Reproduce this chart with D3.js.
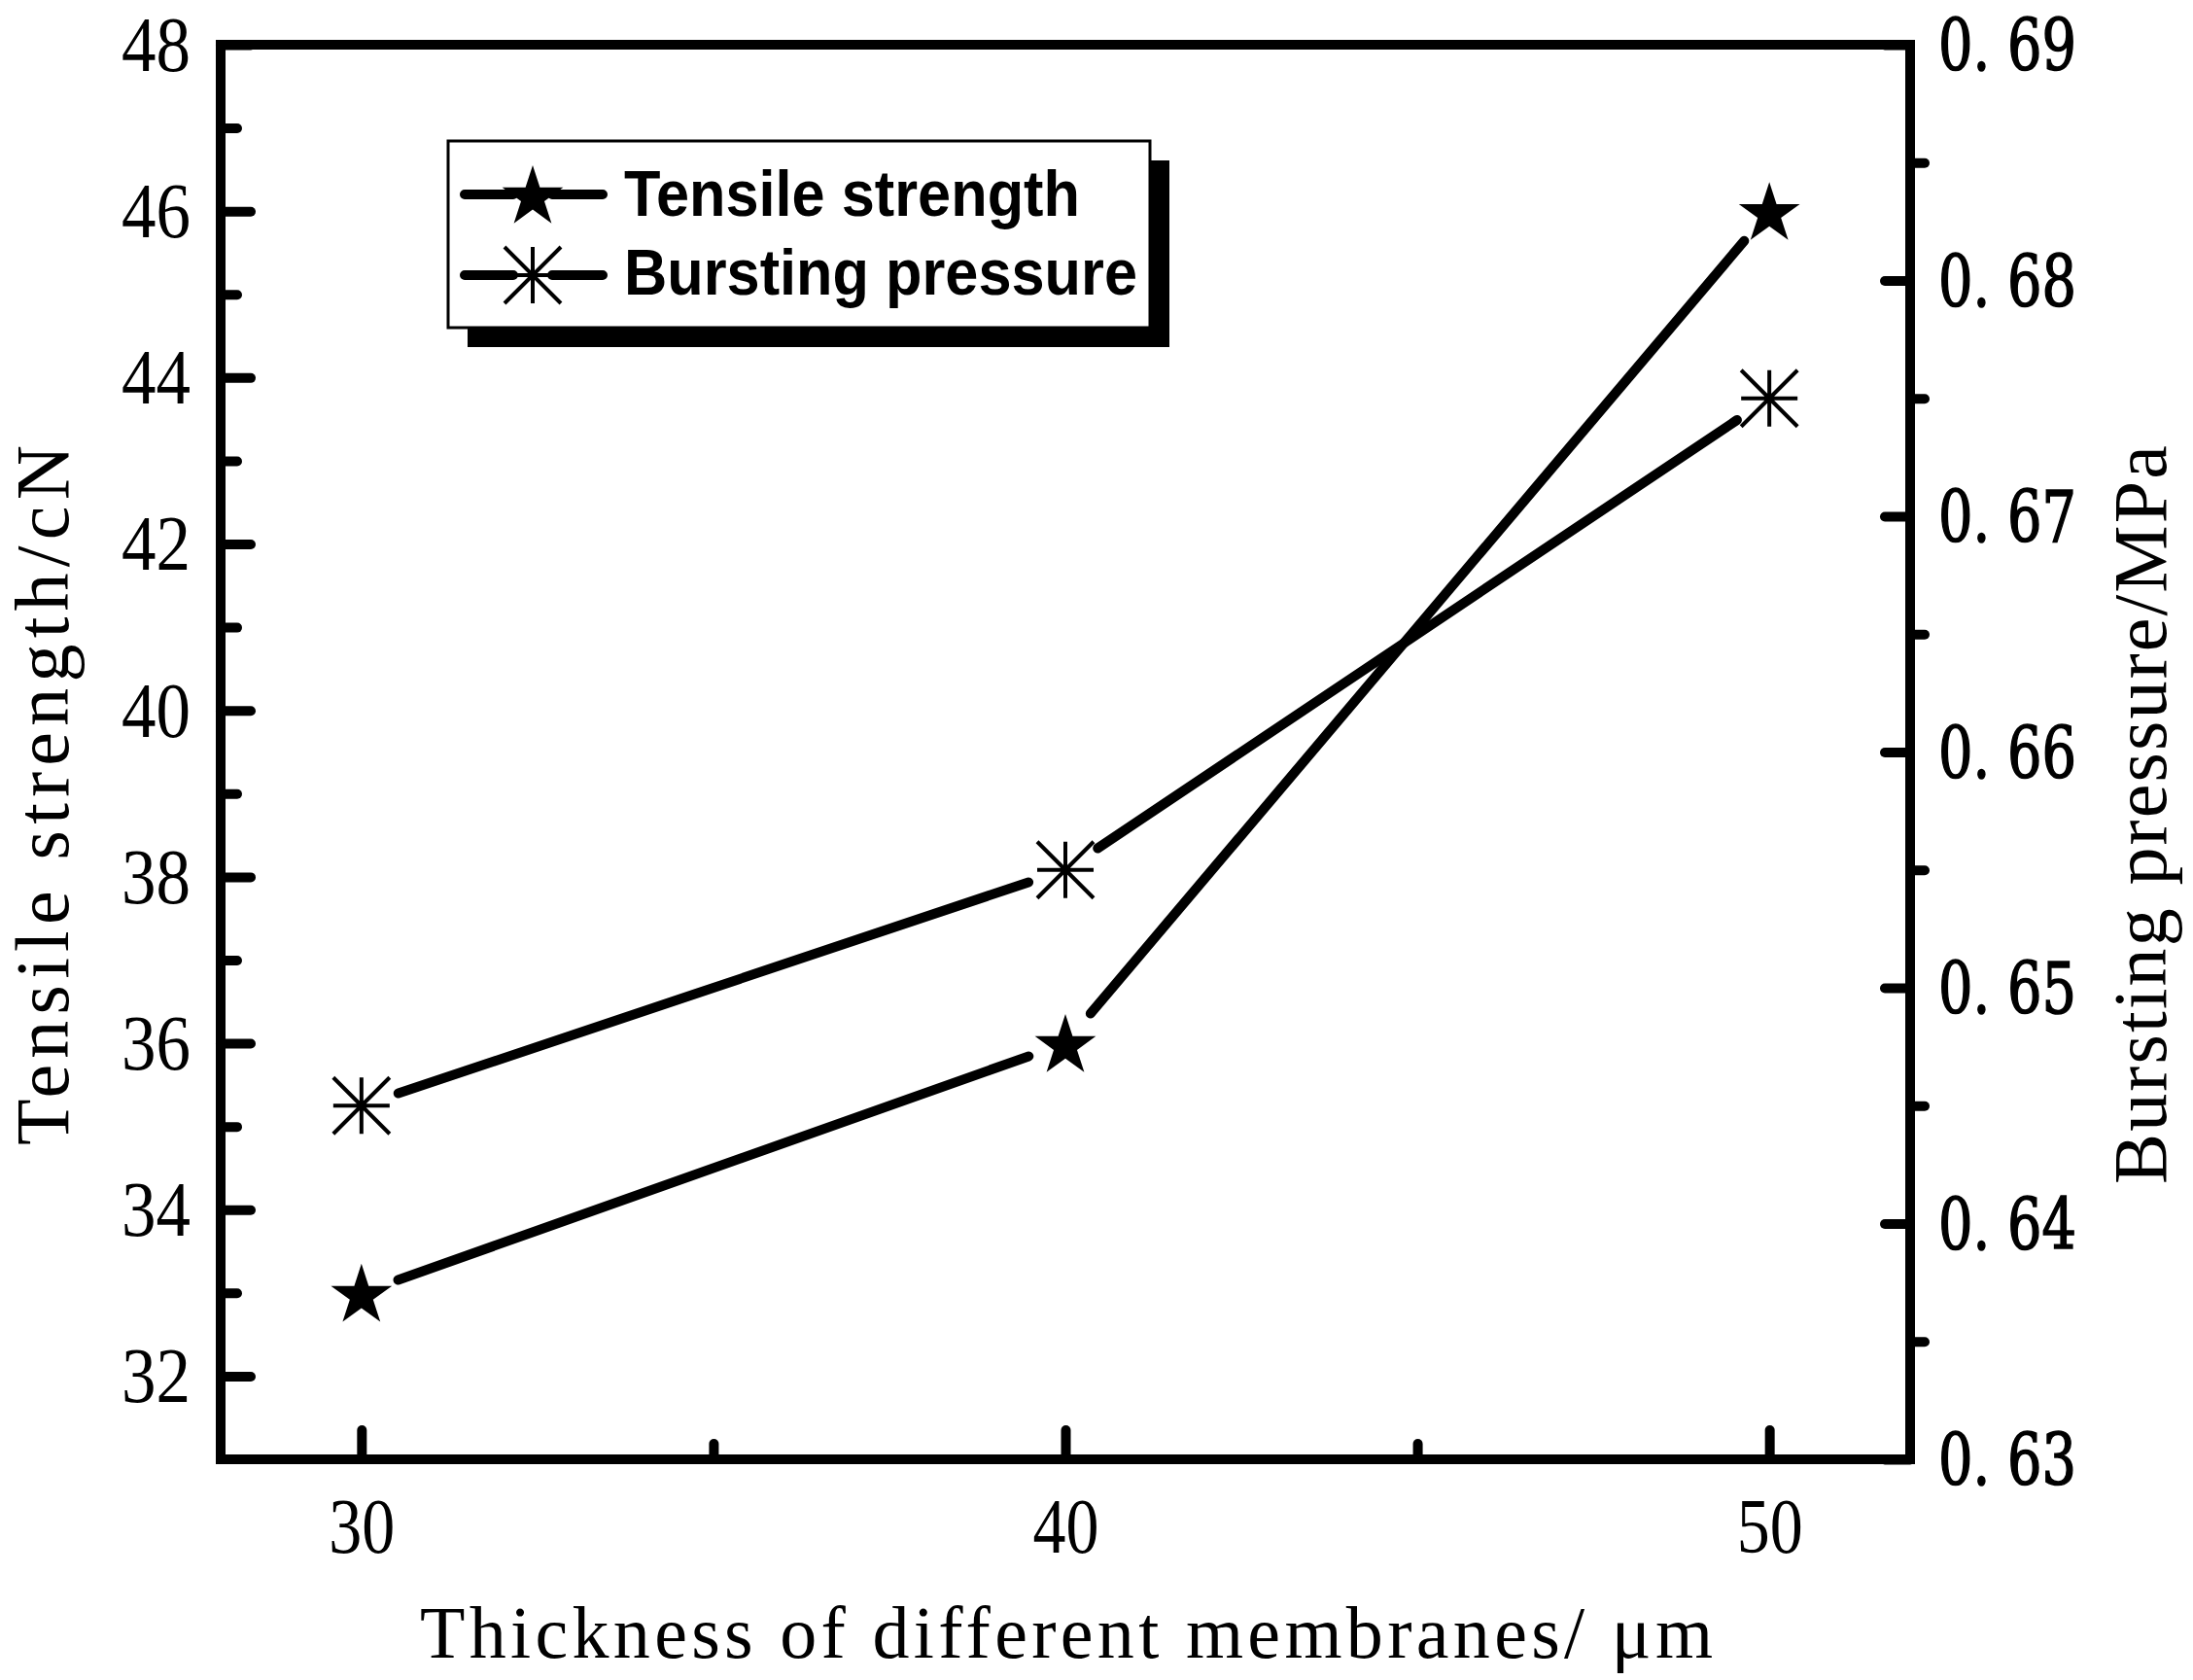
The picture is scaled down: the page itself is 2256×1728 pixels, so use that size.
<!DOCTYPE html>
<html>
<head>
<meta charset="utf-8">
<script src="https://cdn.jsdelivr.net/npm/d3@7"></script>
<style>
  body { margin: 0; background: #fff; }
  svg { display: block; }
</style>
</head>
<body>
<script>
const w = 2256;
const h = 1728;

// data
const thickness = [30, 40, 50];
const tensile = [33, 36, 46];
const bursting = [0.645, 0.655, 0.675];

const xTicks = [30, 40, 50];
const xMinor = [35, 45];
const leftTicks = [32, 34, 36, 38, 40, 42, 44, 46, 48];
const leftMinor = [33, 35, 37, 39, 41, 43, 45, 47];
const rightTicks = [0.63, 0.64, 0.65, 0.66, 0.67, 0.68, 0.69];
const rightMinor = [0.635, 0.645, 0.655, 0.665, 0.675, 0.685];

const seriesNames = ["Tensile strength", "Bursting pressure"];

const plotL = 227, plotR = 1965, plotT = 46, plotB = 1501;

const svg = d3.select("body").append("svg").attr("width", w).attr("height", h);

const xScale = d3.scaleLinear().domain([28, 52]).range([plotL, plotR]);
const yLeft = d3.scaleLinear().domain([31, 48]).range([plotB, plotT]);
const yRight = d3.scaleLinear().domain([0.63, 0.69]).range([plotB, plotT]);

const serif = "'Liberation Serif', 'Times New Roman', serif";

// axes
function styleAxis(g) {
  g.select(".domain").remove();
  g.selectAll(".tick line")
    .attr("stroke", "#000")
    .attr("stroke-width", 10)
    .attr("stroke-linecap", "round");
}

svg.append("g")
  .attr("transform", "translate(" + plotL + ",0)")
  .call(d3.axisLeft(yLeft).tickValues(leftMinor).tickSize(-17).tickFormat(""))
  .call(styleAxis);

svg.append("g")
  .attr("transform", "translate(" + plotL + ",0)")
  .call(d3.axisLeft(yLeft).tickValues(leftTicks).tickSize(-31).tickPadding(31).tickFormat(d3.format("d")))
  .call(styleAxis)
  .call((g) => g.selectAll("text")
    .attr("font-family", serif)
    .attr("font-size", 80)
    .attr("fill", "#000")
    .attr("dy", "0.33em")
    .attr("textLength", 71)
    .attr("lengthAdjust", "spacingAndGlyphs"));

svg.append("g")
  .attr("transform", "translate(" + plotR + ",0)")
  .call(d3.axisRight(yRight).tickValues(rightMinor).tickSize(15).tickFormat(""))
  .call(styleAxis);

svg.append("g")
  .attr("transform", "translate(" + plotR + ",0)")
  .call(d3.axisRight(yRight).tickValues(rightTicks).tickSize(-26).tickPadding(29)
    .tickFormat((d) => d3.format(".2f")(d).replace(".", ". ")))
  .call(styleAxis)
  .call((g) => g.selectAll("text")
    .attr("font-family", "'DejaVu Serif', serif")
    .attr("font-size", 72)
    .attr("fill", "#000")
    .attr("stroke", "#000")
    .attr("stroke-width", 1.6)
    .attr("dy", "0.36em")
    .attr("textLength", 142)
    .attr("lengthAdjust", "spacingAndGlyphs")
    .style("white-space", "pre"));

svg.append("g")
  .attr("transform", "translate(0," + plotB + ")")
  .call(d3.axisBottom(xScale).tickValues(xMinor).tickSize(-16).tickFormat(""))
  .call(styleAxis);

svg.append("g")
  .attr("transform", "translate(0," + plotB + ")")
  .call(d3.axisBottom(xScale).tickValues(xTicks).tickSize(-30).tickFormat(d3.format("d")))
  .call(styleAxis)
  .call((g) => g.selectAll("text")
    .attr("font-family", serif)
    .attr("font-size", 80)
    .attr("fill", "#000")
    .attr("y", 96)
    .attr("dy", 0)
    .attr("textLength", 68)
    .attr("lengthAdjust", "spacingAndGlyphs"));

// frame
svg.append("rect")
  .attr("x", plotL).attr("y", plotT)
  .attr("width", plotR - plotL).attr("height", plotB - plotT)
  .attr("fill", "none")
  .attr("stroke", "#000")
  .attr("stroke-width", 10);

// lines with gaps at the symbols
const gap = 40;
function drawSeries(values, yScale) {
  const pts = thickness.map((t, i) => [xScale(t), yScale(values[i])]);
  const segs = d3.pairs(pts).map(([a, b]) => {
    const dx = b[0] - a[0], dy = b[1] - a[1];
    const len = Math.hypot(dx, dy);
    const ux = dx / len, uy = dy / len;
    return [[a[0] + ux * gap, a[1] + uy * gap], [b[0] - ux * gap, b[1] - uy * gap]];
  });
  svg.append("g")
    .selectAll("path")
    .data(segs)
    .enter()
    .append("path")
    .attr("d", (d) => d3.line()(d))
    .attr("stroke", "#000")
    .attr("stroke-width", 10)
    .attr("stroke-linecap", "round")
    .attr("fill", "none");
  return pts;
}

const starPath = d3.symbol().type(d3.symbolStar).size(1222)();
const ast = 29;
const asteriskPath = "M" + -ast + ",0L" + ast + ",0M0," + -ast + "L0," + ast +
  "M" + -ast + "," + -ast + "L" + ast + "," + ast + "M" + -ast + "," + ast + "L" + ast + "," + -ast;

const tensilePts = drawSeries(tensile, yLeft);
const burstPts = drawSeries(bursting, yRight);

svg.append("g")
  .selectAll("path")
  .data(tensilePts)
  .enter()
  .append("path")
  .attr("transform", (d) => "translate(" + d[0] + "," + (d[1] + 3) + ")")
  .attr("d", starPath)
  .attr("fill", "#000");

svg.append("g")
  .selectAll("path")
  .data(burstPts)
  .enter()
  .append("path")
  .attr("transform", (d) => "translate(" + d[0] + "," + d[1] + ")")
  .attr("d", asteriskPath)
  .attr("stroke", "#000")
  .attr("stroke-width", 4)
  .attr("fill", "none");

// legend
const lg = svg.append("g");
lg.append("rect")
  .attr("x", 481).attr("y", 165).attr("width", 722).attr("height", 192)
  .attr("fill", "#000");
lg.append("rect")
  .attr("x", 461).attr("y", 145).attr("width", 722).attr("height", 192)
  .attr("fill", "#fff")
  .attr("stroke", "#000")
  .attr("stroke-width", 3);

const rowsY = [200, 283];
const textY = [222, 303];
const textLen = [469, 528];
seriesNames.forEach((name, i) => {
  const y = rowsY[i];
  lg.append("path")
    .attr("d", "M478," + y + "L528," + y + "M568," + y + "L620," + y)
    .attr("stroke", "#000")
    .attr("stroke-width", 10)
    .attr("stroke-linecap", "round");
  if (i === 0) {
    lg.append("path")
      .attr("transform", "translate(548," + (y + 3) + ")")
      .attr("d", starPath)
      .attr("fill", "#000");
  } else {
    lg.append("path")
      .attr("transform", "translate(548," + y + ")")
      .attr("d", asteriskPath)
      .attr("stroke", "#000")
      .attr("stroke-width", 4)
      .attr("fill", "none");
  }
  lg.append("text")
    .attr("x", 642)
    .attr("y", textY[i])
    .attr("font-family", "'Liberation Sans', Arial, sans-serif")
    .attr("font-weight", "bold")
    .attr("font-size", 66)
    .attr("textLength", textLen[i])
    .attr("lengthAdjust", "spacingAndGlyphs")
    .text(name);
});

// axis titles
svg.append("text")
  .attr("x", 432)
  .attr("y", 1705)
  .attr("font-family", serif)
  .attr("font-size", 76)
  .attr("textLength", 1330)
  .attr("lengthAdjust", "spacing")
  .text("Thickness of different membranes/ μm");

svg.append("text")
  .attr("transform", "translate(70,818) rotate(-90)")
  .attr("text-anchor", "middle")
  .attr("font-family", serif)
  .attr("font-size", 78)
  .attr("textLength", 720)
  .attr("lengthAdjust", "spacing")
  .text("Tensile strength/cN");

svg.append("text")
  .attr("transform", "translate(2228,838) rotate(-90)")
  .attr("text-anchor", "middle")
  .attr("font-family", serif)
  .attr("font-size", 78)
  .attr("textLength", 760)
  .attr("lengthAdjust", "spacing")
  .text("Bursting pressure/MPa");
</script>
</body>
</html>
